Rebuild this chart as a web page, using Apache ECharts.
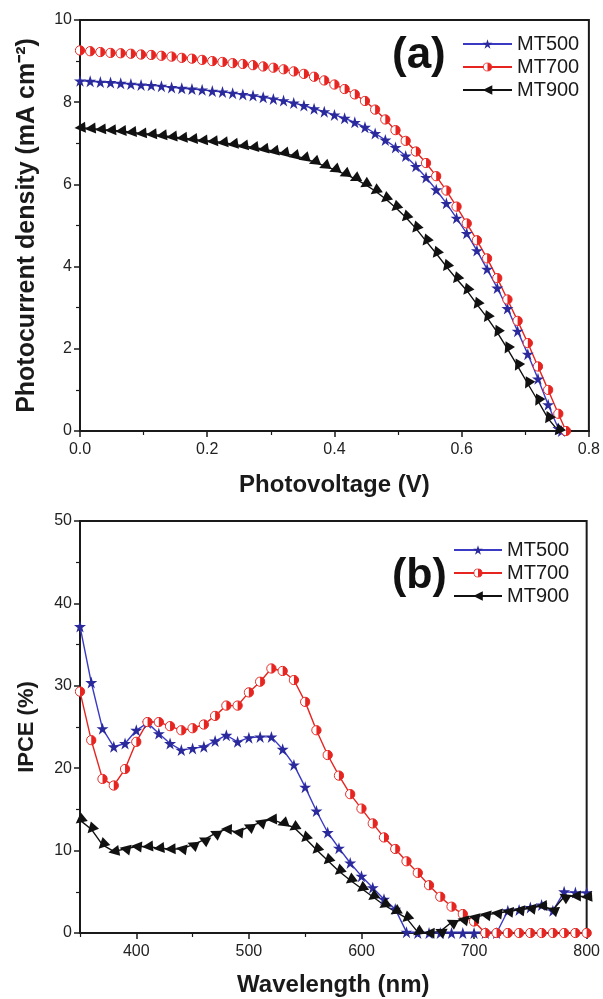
<!DOCTYPE html>
<html><head><meta charset="utf-8">
<script src="https://cdn.jsdelivr.net/npm/echarts@6/dist/echarts.min.js"></script>
<style>html,body{margin:0;padding:0;background:#fff}#c{width:603px;height:999px}</style>
</head><body><div id="c"></div>
<script>
// ---------- (a) J-V curves ----------
const voltage = [0,0.016,0.032,0.048,0.064,0.08,0.096,0.112,0.128,0.144,0.16,0.176,0.192,0.208,0.224,0.24,0.256,0.272,0.288,0.304,0.32,0.336,0.352,0.368,0.384,0.4,0.416,0.432,0.448,0.464,0.48,0.496,0.512,0.528,0.544,0.56,0.576,0.592,0.608,0.624,0.64,0.656,0.672,0.688,0.704,0.72,0.736,0.752];
const jMT500 = [8.52,8.51,8.49,8.48,8.46,8.44,8.42,8.41,8.39,8.36,8.34,8.32,8.3,8.27,8.25,8.22,8.19,8.16,8.12,8.08,8.04,7.98,7.92,7.84,7.77,7.69,7.61,7.51,7.39,7.24,7.08,6.9,6.69,6.44,6.17,5.87,5.54,5.18,4.81,4.39,3.94,3.48,2.98,2.43,1.87,1.27,0.64,0.06];
const jMT700 = [9.26,9.24,9.22,9.2,9.19,9.18,9.16,9.15,9.13,9.11,9.08,9.06,9.03,9.0,8.98,8.95,8.93,8.9,8.87,8.84,8.8,8.75,8.69,8.62,8.53,8.43,8.32,8.19,8.03,7.82,7.58,7.32,7.06,6.8,6.52,6.2,5.85,5.46,5.05,4.64,4.2,3.72,3.2,2.68,2.14,1.57,1.0,0.42];
const jMT900 = [7.38,7.36,7.34,7.32,7.3,7.27,7.24,7.22,7.19,7.16,7.13,7.1,7.07,7.05,7.02,6.98,6.94,6.9,6.86,6.81,6.76,6.7,6.64,6.55,6.45,6.36,6.25,6.14,6.0,5.84,5.65,5.44,5.2,4.93,4.62,4.32,4.0,3.7,3.42,3.08,2.76,2.4,2.0,1.58,1.15,0.73,0.3,0.0];
const vocMT500 = 0.757, vocMT700 = 0.764;
const xTicksA = [0,0.2,0.4,0.6,0.8];
const yTicksA = [0,2,4,6,8,10];

// ---------- (b) IPCE ----------
const wavelength = [350,360,370,380,390,400,410,420,430,440,450,460,470,480,490,500,510,520,530,540,550,560,570,580,590,600,610,620,630,640,650,660,670,680,690,700,710,720,730,740,750,760,770,780,790,800];
const ipceMT500 = [37.2,30.4,24.8,22.6,23.0,24.6,25.5,24.2,23.0,22.2,22.4,22.6,23.3,24.0,23.2,23.7,23.8,23.8,22.3,20.4,17.7,14.8,12.2,10.3,8.5,6.9,5.5,4.1,2.9,0.1,0,0,0,0,0,0,0,0,2.7,2.8,3.1,3.4,2.7,5.0,4.9,4.9];
const ipceMT700 = [29.3,23.4,18.7,17.9,19.9,23.2,25.6,25.6,25.1,24.6,24.85,25.3,26.35,27.6,27.6,29.2,30.5,32.1,31.8,30.7,28.05,24.6,21.6,19.1,16.85,15.1,13.3,11.6,10.2,8.7,7.3,5.8,4.4,3.2,2.3,1.4,0,0,0,0,0,0,0,0,0,0];
const ipceMT900 = [13.7,12.6,10.7,9.9,10.2,10.5,10.5,10.3,10.2,10.2,10.7,11.3,12.1,12.6,12.2,12.9,13.4,13.8,13.3,12.8,11.5,10.1,8.8,7.5,6.4,5.4,4.4,3.4,2.6,1.8,0.1,0,0.2,1.3,1.6,1.9,2.2,2.4,2.6,2.8,3.0,3.3,2.8,4.4,4.5,4.4];
const xTicksB = [400,500,600,700,800];
const xMinorB = [350,450,550,650,750];
const seriesNames = ['MT500','MT700','MT900'];

// ---------- styles ----------
const BLUE = '#3a3ac4', BLUE_M = '#2a2a9c', RED = '#e62420', BLACK = '#111111';
const STAR = 'path://M50,0 L61.2,34.5 L97.6,34.5 L68.2,55.9 L79.4,90.5 L50,69.1 L20.6,90.5 L31.8,55.9 L2.4,34.5 L38.8,34.5 Z';
const halfSvg = "<svg xmlns='http://www.w3.org/2000/svg' width='40' height='40' viewBox='0 0 40 40'><circle cx='20' cy='20' r='17' fill='white' stroke='" + RED + "' stroke-width='3.5'/><path d='M20 3 A17 17 0 0 1 20 37 Z' fill='" + RED + "'/></svg>";
const HALF = 'image://data:image/svg+xml;charset=utf-8,' + encodeURIComponent(halfSvg);
const FONT = 'Liberation Sans, Arial, sans-serif';

function pairs(xs, ys) { return ys.map((y, i) => [xs[i], y]); }

const gridA = {left: 80, right: 13, top: 20, height: 411};
const gridB = {left: 80, right: 13, top: 521, height: 412};

function axisCommon(extra) {
  return Object.assign({
    axisLine: {show: true, lineStyle: {color: '#1a1a1a', width: 2}},
    axisTick: {show: true, inside: false, length: 6, lineStyle: {color: '#1a1a1a', width: 1.5}},
    minorTick: {show: true, splitNumber: 2, length: 4, lineStyle: {color: '#1a1a1a', width: 1.2}},
    splitLine: {show: false},
    axisLabel: {color: '#222', fontSize: 16, fontFamily: FONT, margin: 8},
    nameLocation: 'middle',
    nameTextStyle: {color: '#1a1a1a', fontSize: 24, fontWeight: 'bold', fontFamily: FONT}
  }, extra);
}

const lineSeries = (name, data, xi, yi, color, symbol, size, mcolor, extra) => Object.assign({
  name, type: 'line', xAxisIndex: xi, yAxisIndex: yi, data,
  symbol, symbolSize: size, showAllSymbol: true,
  lineStyle: {color, width: 1.4},
  itemStyle: {color: mcolor, borderWidth: 0},
  emphasis: {disabled: true}, animation: false, z: 3
}, extra || {});

const vA500 = voltage.slice(); vA500.push(vocMT500);
const jA500 = jMT500.slice(); jA500.push(0);
const vA700 = voltage.slice(); vA700.push(vocMT700);
const jA700 = jMT700.slice(); jA700.push(0);

const legendText = {fontSize: 20, color: '#1a1a1a', fontFamily: FONT};

const option = {
  animation: false,
  backgroundColor: '#ffffff',
  grid: [
    Object.assign({show: true, borderColor: '#1a1a1a', borderWidth: 2}, gridA),
    Object.assign({show: true, borderColor: '#1a1a1a', borderWidth: 2}, gridB)
  ],
  xAxis: [
    axisCommon({gridIndex: 0, type: 'value', min: 0, max: 0.8, interval: 0.2,
      name: 'Photovoltage (V)', nameGap: 42,
      axisLabel: {color: '#222', fontSize: 16, fontFamily: FONT, margin: 11,
        customValues: xTicksA, formatter: v => v.toFixed(1)}}),
    axisCommon({gridIndex: 1, type: 'value', min: 350, max: 800,
      name: 'Wavelength (nm)', nameGap: 40,
      minorTick: {show: false},
      axisTick: {show: true, length: 6, customValues: xTicksB, lineStyle: {color: '#1a1a1a', width: 1.5}},
      axisLabel: {color: '#222', fontSize: 16, fontFamily: FONT, margin: 11, customValues: xTicksB}}),
    {gridIndex: 1, type: 'value', min: 350, max: 800, position: 'bottom',
      axisLine: {show: false}, splitLine: {show: false}, axisLabel: {show: false},
      axisTick: {show: true, length: 4, customValues: xMinorB, lineStyle: {color: '#1a1a1a', width: 1.2}}}
  ],
  yAxis: [
    axisCommon({gridIndex: 0, type: 'value', min: 0, max: 10, interval: 2,
      name: 'Photocurrent density (mA cm\u207B\u00B2)', nameGap: 40,
      nameTextStyle: {color: '#1a1a1a', fontSize: 25, fontWeight: 'bold', fontFamily: FONT},
      axisLabel: {color: '#222', fontSize: 16, fontFamily: FONT, margin: 8, customValues: yTicksA}}),
    axisCommon({gridIndex: 1, type: 'value', min: 0, max: 50, interval: 10,
      name: 'IPCE (%)', nameGap: 42,
      nameTextStyle: {color: '#1a1a1a', fontSize: 22, fontWeight: 'bold', fontFamily: FONT}})
  ],
  legend: [
    {orient: 'vertical', left: 457, top: 29, itemWidth: 49, itemHeight: 12, itemGap: 3,
      data: seriesNames.map(n => ({name: n})), selectedMode: false, textStyle: legendText},
    {orient: 'vertical', left: 448, top: 535, itemWidth: 48, itemHeight: 12, itemGap: 3,
      data: seriesNames.map(n => ({name: n})), selectedMode: false, textStyle: legendText}
  ],
  graphic: [
    {type: 'text', left: 392, top: 34, style: {text: '(a)', font: 'bold 44px ' + FONT, fill: '#111'}},
    {type: 'text', left: 392, top: 555, style: {text: '(b)', font: 'bold 43px ' + FONT, fill: '#111'}}
  ],
  series: [
    lineSeries('MT500', pairs(vA500, jA500), 0, 0, BLUE, STAR, 12, BLUE_M),
    lineSeries('MT700', pairs(vA700, jA700), 0, 0, RED, HALF, 11, RED),
    lineSeries('MT900', pairs(voltage, jMT900), 0, 0, BLACK, 'triangle', 11, BLACK, {symbolRotate: 90}),
    lineSeries('MT500', pairs(wavelength, ipceMT500), 1, 1, BLUE, STAR, 12, BLUE_M),
    lineSeries('MT700', pairs(wavelength, ipceMT700), 1, 1, RED, HALF, 11, RED),
    lineSeries('MT900', pairs(wavelength, ipceMT900), 1, 1, BLACK, 'triangle', 11, BLACK, {symbolRotate: 90})
  ]
};

const chart = echarts.init(document.getElementById('c'), null, {renderer: 'canvas'});
chart.setOption(option);

// Orient the MT900 triangle markers along the drawn curve (screen-space tangent).
function orient(seriesIndex, pts) {
  const px = pts.map(p => chart.convertToPixel({seriesIndex}, p));
  return pts.map((p, i) => {
    const a = px[Math.max(0, i - 1)], b = px[Math.min(px.length - 1, i + 1)];
    const th = Math.atan2(b[1] - a[1], b[0] - a[0]) * 180 / Math.PI;
    return {value: p, symbolRotate: 90 + th};
  });
}
const s = option.series;
s[2].data = orient(2, pairs(voltage, jMT900));
s[5].data = orient(5, pairs(wavelength, ipceMT900));
chart.setOption({series: s});
</script>
</body></html>
